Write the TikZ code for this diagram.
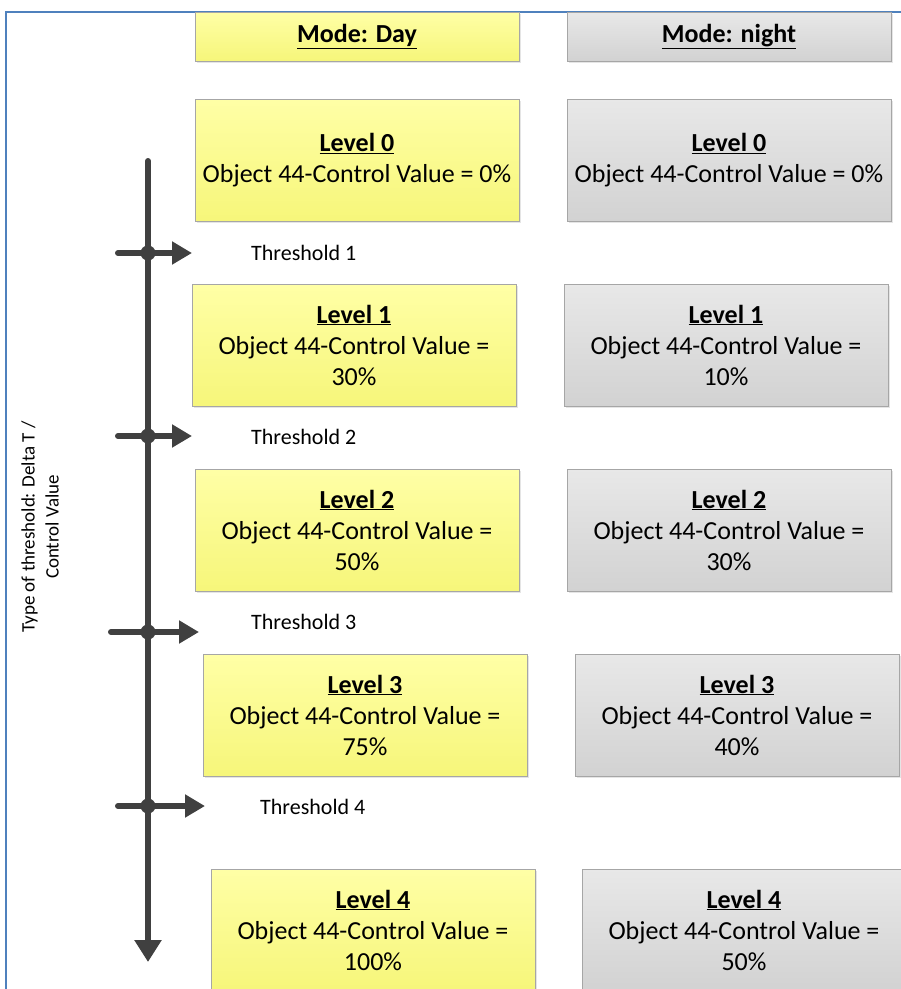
\documentclass[tikz,border=0pt]{standalone}
\usepackage{fontspec}
\setmainfont{Carlito}
\usetikzlibrary{arrows.meta,shadows}
\definecolor{frameblue}{HTML}{4F81BD}
\definecolor{ytop}{HTML}{FFFFA6}
\definecolor{ybot}{HTML}{F6F67A}
\definecolor{gtop}{HTML}{E8E8E8}
\definecolor{gbot}{HTML}{D2D2D2}
\definecolor{boxline}{HTML}{A6A6A6}
\definecolor{arrowgrey}{HTML}{404040}
\tikzset{
  levelbox/.style={rectangle, draw=boxline, line width=0.8pt, minimum width=324pt, minimum height=122pt,
    align=center, inner sep=0pt, font=\fontsize{26}{31}\selectfont,
    drop shadow={opacity=0.2, shadow xshift=2pt, shadow yshift=-2pt}},
  daybox/.style={levelbox, top color=ytop, bottom color=ybot},
  nightbox/.style={levelbox, top color=gtop, bottom color=gbot},
  modebox/.style={minimum height=49pt},
  thrlabel/.style={anchor=west, font=\fontsize{22}{26}\selectfont, inner sep=0pt},
  axisline/.style={draw=arrowgrey, line width=6pt, line cap=round, -{Triangle[length=22pt,width=26pt]}},
  tharrow/.style={draw=arrowgrey, line width=6pt, line cap=round, -{Triangle[length=20pt,width=22pt]}},
  jdot/.style={circle, fill=arrowgrey, minimum size=15pt, inner sep=0pt}
}
\newcommand{\lvl}[1]{\textbf{\underline{#1}}}
\begin{document}
\begin{tikzpicture}[x=1pt,y=-1pt]
\useasboundingbox (0,0) rectangle (901,989);
\clip (0,0) rectangle (901,989);
\fill[white] (0,0) rectangle (901,989);
% frame
\draw[frameblue, line width=2pt] (6,995) -- (6,12) -- (905,12);
% mode boxes
\node[daybox, modebox] (mday) at (357,36.5) {\lvl{Mode: Day}};
\node[nightbox, modebox] (mnight) at (729,36.5) {\lvl{Mode: night}};
% level boxes
\node[daybox] (d0) at (357,160) {\lvl{Level 0}\\Object 44-Control Value = 0\%};
\node[nightbox] (n0) at (729,160) {\lvl{Level 0}\\Object 44-Control Value = 0\%};
\node[daybox] (d1) at (354,345) {\lvl{Level 1}\\Object 44-Control Value =\\30\%};
\node[nightbox] (n1) at (726,345) {\lvl{Level 1}\\Object 44-Control Value =\\10\%};
\node[daybox] (d2) at (357,530) {\lvl{Level 2}\\Object 44-Control Value =\\50\%};
\node[nightbox] (n2) at (729,530) {\lvl{Level 2}\\Object 44-Control Value =\\30\%};
\node[daybox] (d3) at (365,715) {\lvl{Level 3}\\Object 44-Control Value =\\75\%};
\node[nightbox] (n3) at (737,715) {\lvl{Level 3}\\Object 44-Control Value =\\40\%};
\node[daybox] (d4) at (373,930) {\lvl{Level 4}\\Object 44-Control Value =\\100\%};
\node[nightbox] (n4) at (744,930) {\lvl{Level 4}\\Object 44-Control Value =\\50\%};
% axis
\coordinate (atop) at (148,161);
\coordinate (abot) at (148,962);
\draw[axisline] (atop) -- (abot);
% thresholds
\coordinate (t1s) at (118,253); \coordinate (t1e) at (192,253);
\coordinate (t2s) at (118,436); \coordinate (t2e) at (192,436);
\coordinate (t3s) at (111,632); \coordinate (t3e) at (199,632);
\coordinate (t4s) at (118,806); \coordinate (t4e) at (205,806);
\draw[tharrow] (t1s) -- (t1e);
\draw[tharrow] (t2s) -- (t2e);
\draw[tharrow] (t3s) -- (t3e);
\draw[tharrow] (t4s) -- (t4e);
\node[jdot] (j1) at (148,253) {};
\node[jdot] (j2) at (148,436) {};
\node[jdot] (j3) at (148,632) {};
\node[jdot] (j4) at (148,806) {};
\node[thrlabel] (l1) at (251,253) {Threshold 1};
\node[thrlabel] (l2) at (251,437) {Threshold 2};
\node[thrlabel] (l3) at (251,622) {Threshold 3};
\node[thrlabel] (l4) at (260,807) {Threshold 4};
% rotated label
\node[rotate=90, align=center, font=\fontsize{19}{24}\selectfont, inner sep=0pt] (ylab) at (40,527) {Type of threshold: Delta T /\\Control Value};
\end{tikzpicture}
\end{document}
